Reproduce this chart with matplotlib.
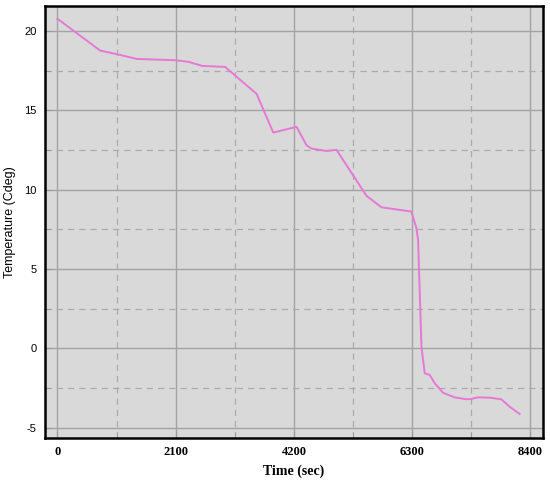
import matplotlib
matplotlib.use("Agg")
import matplotlib.pyplot as plt
from matplotlib.ticker import MultipleLocator

plt.rcParams["axes.unicode_minus"] = False

time_sec = [0, 757, 1053, 1408, 2088, 2324, 2572, 2975, 3536, 3832, 4246,
            4423, 4512, 4778, 4956, 5488, 5754, 6286, 6375, 6404, 6464,
            6522, 6611, 6700, 6847, 7054, 7261, 7350, 7468, 7675, 7882,
            8030, 8207]
temp_c = [20.76, 18.76, 18.53, 18.23, 18.15, 18.05, 17.79, 17.73, 16.03,
          13.59, 13.95, 12.79, 12.58, 12.43, 12.5, 9.6, 8.88, 8.61, 7.56,
          6.82, 0.09, -1.58, -1.69, -2.21, -2.81, -3.10, -3.22, -3.20,
          -3.10, -3.12, -3.22, -3.69, -4.15]

x_ticks = [0, 2100, 4200, 6300, 8400]
y_ticks = [-5, 0, 5, 10, 15, 20]


def make_chart():

    fig = plt.figure(figsize=(5.5, 4.82), dpi=100)
    ax = fig.add_axes([0.082, 0.091, 0.905, 0.897])
    ax.set_facecolor("#d9d9d9")

    ax.plot(time_sec, temp_c, color="#e678d6", linewidth=1.4, zorder=3)

    ax.set_xlim(-220, 8620)
    ax.set_ylim(-5.67, 21.58)

    ax.set_xticks(x_ticks)
    ax.set_yticks(y_ticks)
    ax.xaxis.set_minor_locator(MultipleLocator(1050))
    ax.yaxis.set_minor_locator(MultipleLocator(2.5))

    ax.grid(which="major", color="#a3a3a3", linewidth=1.0, linestyle="-")
    ax.grid(which="minor", color="#ababab", linewidth=0.9,
            linestyle=(0, (5, 4)))
    ax.set_axisbelow(True)

    ax.tick_params(which="both", direction="in", length=4, color="#999999")
    ax.tick_params(axis="y", which="major", labelsize=8, pad=6)
    ax.tick_params(axis="x", which="major", labelsize=9, pad=6)

    for label in ax.get_xticklabels():
        label.set_fontfamily("Liberation Serif")
        label.set_fontweight("bold")
    for label in ax.get_yticklabels():
        label.set_fontfamily("Liberation Sans")

    ax.set_xlabel("Time (sec)", fontfamily="Liberation Serif",
                  fontweight="bold", fontsize=10, labelpad=4)
    ax.set_ylabel("Temperature (Cdeg)", fontfamily="Liberation Sans",
                  fontsize=9, labelpad=6)

    for side in ["left", "bottom", "top", "right"]:
        ax.spines[side].set_color("black")
        ax.spines[side].set_linewidth(1.8)

    fig.savefig("out.png", dpi=100)
    plt.close(fig)


if __name__ == "__main__":

    make_chart()
